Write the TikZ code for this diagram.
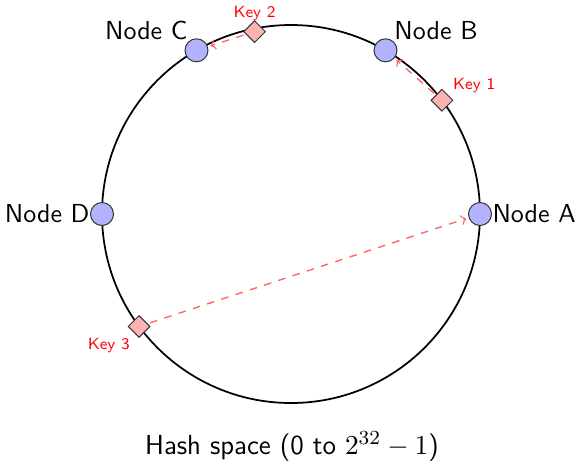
\documentclass[tikz,border=0pt]{standalone}
\usetikzlibrary{shapes.geometric,calc}
\begin{document}
\begin{tikzpicture}[x=0.4pt,y=0.4pt,
  ring/.style={draw=black, line width=0.7pt},
  server/.style={circle, draw=black!80, fill=blue!30, minimum size=9.2pt, inner sep=0pt, line width=0.4pt},
  keybox/.style={diamond, draw=black!80, fill=red!30, minimum size=8.8pt, inner sep=0pt, line width=0.4pt},
  nodelabel/.style={font=\sffamily\fontsize{10.4}{12}\selectfont, inner sep=0pt},
  keylabel/.style={font=\sffamily\fontsize{6.5}{8}\selectfont, text=red, inner sep=0pt},
  lookup/.style={->, red!60, dashed, line width=0.55pt, shorten >=1pt, shorten <=1pt}]
\useasboundingbox (0,0) rectangle (578,463);
\coordinate (O) at (291,249);
\draw[ring] (O) circle (189);
\node[server] (A) at ($(O)+(0:189)$) {};
\node[server] (B) at ($(O)+(60:189)$) {};
\node[server] (C) at ($(O)+(120:189)$) {};
\node[server] (D) at ($(O)+(180:189)$) {};
\node[keybox] (K1) at ($(O)+(37:189)$) {};
\node[keybox] (K2) at ($(O)+(101.3:186)$) {};
\node[keybox] (K3) at ($(O)+(216.5:189)$) {};
\node[nodelabel, anchor=west] (LA) at (A.east) {Node A};
\node[nodelabel, anchor=south west] (LB) at ($(B.north east)+(0,2)$) {Node B};
\node[nodelabel, anchor=south east] (LC) at ($(C.north west)+(0,2)$) {Node C};
\node[nodelabel, anchor=east] (LD) at (D.west) {Node D};
\node[keylabel, anchor=south west] (LK1) at ($(K1.north east)+(5,1)$) {Key 1};
\node[keylabel, anchor=south] (LK2) at ($(K2.north)+(0,-1)$) {Key 2};
\node[keylabel, anchor=north east] (LK3) at ($(K3.south west)+(-3,-6)$) {Key 3};
\draw[lookup] (K1) -- (B);
\draw[lookup] (K2) -- (C);
\draw[lookup] (K3) -- (A);
\node[font=\sffamily\fontsize{11}{13}\selectfont, anchor=base] (T) at (292,9) {Hash space (0 to $2^{32}-1$)};
\end{tikzpicture}
\end{document}
